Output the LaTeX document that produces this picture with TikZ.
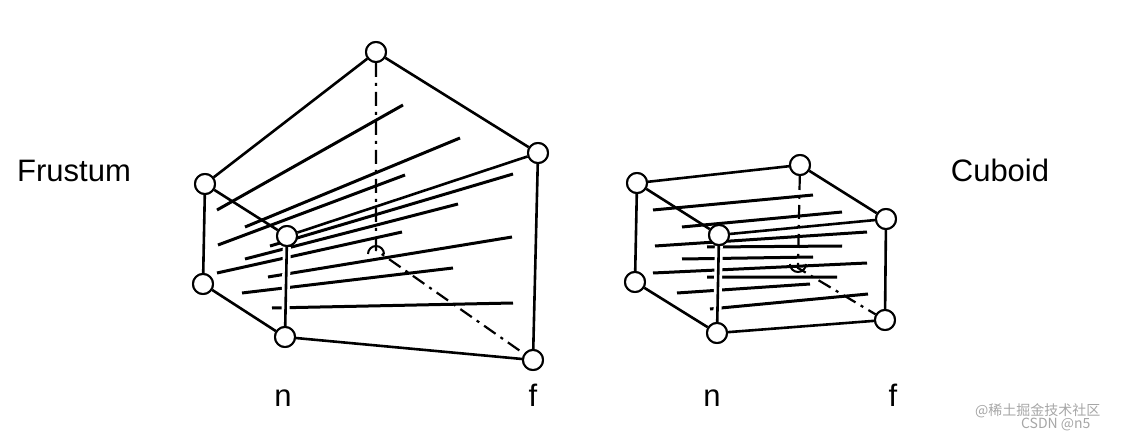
\documentclass[tikz,border=0pt]{standalone}
\usepackage{fontspec}
\setmainfont{Liberation Sans}
\newfontfamily\cjk{Noto Sans CJK SC}
\begin{document}
\begin{tikzpicture}[x=1pt,y=-1pt,
  edge/.style={line width=2.6pt},
  ln/.style={line width=3pt},
  hid/.style={line width=2.2pt,dash pattern=on 14pt off 6pt on 3pt off 6pt},
  vtx/.style={circle,draw,line width=2pt,fill=white,minimum size=20pt,inner sep=0pt},
  lbl/.style={font=\fontsize{31}{34}\selectfont},
  wm/.style={font=\cjk\fontsize{14}{16}\selectfont,text=black!35}]
\useasboundingbox (0,0) rectangle (1121,438);
% ---------- Frustum ----------
\coordinate (fh) at (376,250);
\draw[ln] (217,210)--(403,105) (245,227)--(460,138) (218,245)--(405,175) (270,246)--(513,174)
  (245,259)--(458,204) (217,273)--(402,232) (268,277)--(512,237) (242,293)--(453,268) (272,308)--(513,303);
\node[vtx] (ft) at (376,52) {};
\node[vtx] (flu) at (205,184) {};
\node[vtx] (fft) at (287,236) {};
\node[vtx] (fru) at (538,153) {};
\node[vtx] (fll) at (203,284) {};
\node[vtx] (ffb) at (285,337) {};
\node[vtx] (frb) at (533,360) {};
\draw[hid] (ft) -- (fh) -- (frb);
\draw[line width=2pt] (368,254) arc (180:360:8);
\draw[line width=8pt,white] (fft) -- (ffb);
\draw[edge] (ft)--(flu) (ft)--(fru) (flu)--(fft) (fft)--(fru) (flu)--(fll) (fll)--(ffb) (fft)--(ffb) (ffb)--(frb) (fru)--(frb);
\node[vtx] at (ft) {};\node[vtx] at (flu) {};\node[vtx] at (fft) {};\node[vtx] at (fru) {};
\node[vtx] at (fll) {};\node[vtx] at (ffb) {};\node[vtx] at (frb) {};
% ---------- Cuboid ----------
\coordinate (ch) at (798,268);
\draw[ln] (653,210)--(813,195) (682,227)--(842,212) (655,246)--(867,232) (707,247)--(842,246)
  (682,259)--(813,257) (653,273)--(867,263) (707,277)--(837,277) (677,293)--(810,284) (710,309)--(868,294);
\node[vtx] (ctl) at (637,183) {};
\node[vtx] (ctb) at (800,165) {};
\node[vtx] (cru) at (886,219) {};
\node[vtx] (cft) at (719,235) {};
\node[vtx] (cll) at (635,282) {};
\node[vtx] (cfb) at (717,333) {};
\node[vtx] (crb) at (885,320) {};
\draw[hid] (ctb) -- (ch) -- (crb);
\draw[line width=2pt] (790,264) arc (180:0:8);
\draw[line width=8pt,white] (cft) -- (cfb);
\draw[edge] (ctl)--(ctb) (ctb)--(cru) (ctl)--(cft) (cft)--(cru) (ctl)--(cll) (cll)--(cfb) (cft)--(cfb) (cfb)--(crb) (cru)--(crb);
\node[vtx] at (ctl) {};\node[vtx] at (ctb) {};\node[vtx] at (cru) {};\node[vtx] at (cft) {};
\node[vtx] at (cll) {};\node[vtx] at (cfb) {};\node[vtx] at (crb) {};
% ---------- Labels ----------
\node[lbl,anchor=base] (lf) at (74,182) {Frustum};
\node[lbl,anchor=base] (lc) at (1000,182) {Cuboid};
\node[lbl,anchor=base] (n1) at (283,406) {n};
\node[lbl,anchor=base] (f1) at (533,406) {f};
\node[lbl,anchor=base] (n2) at (712,406) {n};
\node[lbl,anchor=base] (f2) at (893,406) {f};
\node[wm,anchor=east] (w1) at (1104,411) {@稀土掘金技术社区};
\node[wm,anchor=east] (w2) at (1094,424) {CSDN @n5};
\end{tikzpicture}
\end{document}
